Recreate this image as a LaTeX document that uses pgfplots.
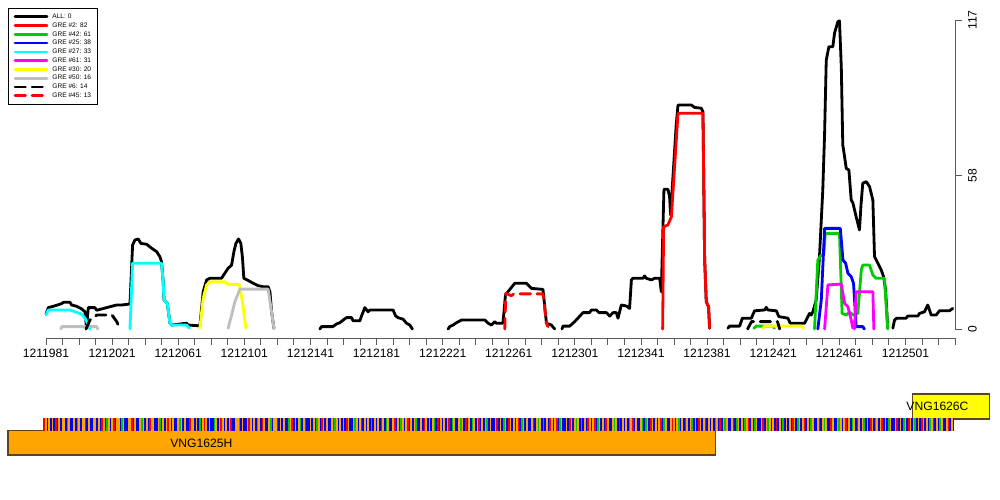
\documentclass[border=0pt]{standalone}
\usepackage{pgfplots}
\pgfplotsset{compat=1.18}
\usepackage{fontspec}
\setmainfont{Liberation Sans}
\definecolor{cgreen}{RGB}{0,205,0}
\definecolor{cgray}{RGB}{190,190,190}
\definecolor{ccyan}{RGB}{0,255,255}
\definecolor{cmagenta}{RGB}{255,0,255}
\definecolor{cyellow}{RGB}{255,255,0}
\definecolor{cred}{RGB}{255,0,0}
\definecolor{cblue}{RGB}{0,0,255}
\definecolor{corange}{RGB}{255,165,0}
\definecolor{cbord}{RGB}{90,70,30}
\definecolor{sgreen}{RGB}{0,200,0}
% sequence track: 0=G (orange) 1=C (blue) 2=A (green) 3=T (red)
\def\seq{3,0,1,0,1,0,1,3,1,0,1,0,0,1,2,0,1,1,0,1,2,0,1,0,0,3,1,0,1,1,0,0,1,0,1,3,0,1,2,0,1,0,3,1,0,0,1,2,0,1,%
1,0,0,3,1,0,1,1,0,2,0,1,0,1,3,0,0,1,1,0,2,1,0,1,0,3,0,1,0,1,1,0,2,0,1,0,1,1,3,0,0,1,0,1,2,1,0,3,0,1,%
0,1,1,2,0,1,0,3,0,1,0,1,0,3,1,1,0,0,2,1,0,1,1,0,3,0,1,0,1,2,0,1,3,0,1,1,0,2,1,0,0,3,1,0,1,0,1,1,2,0,%
3,1,0,1,0,2,1,0,3,1,1,0,1,0,1,2,0,1,3,0,1,0,1,1,0,3,2,0,1,0,1,0,1,3,0,1,1,0,2,0,1,0,3,1,0,1,0,1,2,1,%
0,1,0,1,3,0,1,2,0,1,1,0,3,1,0,1,2,0,1,0,3,1,0,1,0,2,1,1,0,1,3,0,1,0,1,0,2,1,3,1,0,1,0,1,0,3,1,2,0,1,%
1,0,2,0,1,3,1,0,1,2,0,1,0,3,1,0,1,0,2,1,0,1,1,0,3,1,0,1,2,0,1,3,0,1,0,1,0,3,1,2,0,1,0,1,1,0,3,1,0,2,%
0,1,2,1,0,1,3,0,1,0,3,1,2,0,1,1,0,1,3,0,1,0,2,0,1,2,1,0,1,3,0,1,0,3,1,2,0,1,0,1,3,0,1,1,0,2,0,1,3,1,%
0,1,0,1,2,0,3,1,0,1,1,0,2,1,2,0,1,3,0,1,0,1,0,3,1,2,0,1,1,0,3,0,1,0,2,1,0,1,3,0,1,0,2,1,0,1,3,0,1,0,%
3,1,0,1,0,1,2,0,1,3,1,0,2,0,1,1,0,3,1,2,0,1,0,1,2,0,3,1,0,1,2,0,1,1,0,3,1,0,2,0,1,0,1,3,1,0,1,2,1,0,%
1,0,1,3,0,1,2,0,1,0,3,1,0,1,2,0,1,1,0,3,1,0,2,0,1,1,3,0,1,1,0,2,0,1,0,3,1,0,1,2,0,1,3,0,1,0,2,1,0,1,%
3,0,1,2,0,1,0,3,1,0,1,2,0,1,1,0,3,1,0,1,2,0,1,3,0,1,0,2,1,0,1,3,0,1,0,1,2,0,3,1,0,1,2,0,1,1,0,3,1,0,1}
\begin{document}
\begin{tikzpicture}
\useasboundingbox[fill=white] (0,0) rectangle (20cm,10cm);
\def\coords{}
\foreach \c [count=\i from -1] in \seq {\xdef\coords{\coords (\i,-424.5) [\c]}}
% x = position - 1211981 (bp)
\begin{axis}[at={(0.92cm,3.24cm)}, anchor=south west, scale only axis,
  width=18.18cm, height=6.36cm,
  xmin=0, xmax=550, ymin=-3.4, ymax=117,
  axis x line*=bottom, axis y line*=right,
  y axis line style={draw=none},
  x axis line style={black!65, line width=0.5pt},
  xtick={0,40,...,520},
  xticklabels={1211981,1212021,1212061,1212101,1212141,1212181,1212221,1212261,1212301,1212341,1212381,1212421,1212461,1212501},
  minor xtick={0,10,...,550},
  ytick={0,58,117}, yticklabels={0,58,117},
  tick align=outside, major tick length=0.14cm, minor tick length=0.14cm,
  tick style={black!65, line width=0.5pt},
  ticklabel style={font=\fontsize{6.9}{8}\selectfont},
  xticklabel style={yshift=0.04cm},
  yticklabel style={rotate=90, anchor=north},
  clip=false,
  legend style={at={(-0.0418,1.0377)}, anchor=north west, draw=black, line width=0.5pt,
    fill=white, font=\fontsize{3.75}{4.4}\selectfont, inner xsep=3pt, inner ysep=2.2pt,
    row sep=0pt, column sep=0.06cm,
    nodes={inner sep=0.6pt, text height=2.9pt, text depth=0.9pt}},
  legend cell align=left,
  legend image code/.code={\draw[#1] (0cm,0cm) -- (0.64cm,0cm);},
  every axis plot/.append style={line width=1.6pt, line join=round, line cap=round},
]
\addlegendimage{black, line width=1.5pt}\addlegendentry{ALL: 0\hspace{0.1cm}}
\addlegendimage{cred, line width=1.5pt}\addlegendentry{GRE \#2: 82}
\addlegendimage{cgreen, line width=1.5pt}\addlegendentry{GRE \#42: 61}
\addlegendimage{cblue, line width=1.5pt}\addlegendentry{GRE \#25: 38}
\addlegendimage{ccyan, line width=1.5pt}\addlegendentry{GRE \#27: 33}
\addlegendimage{cmagenta, line width=1.5pt}\addlegendentry{GRE \#61: 31}
\addlegendimage{cyellow, line width=1.5pt}\addlegendentry{GRE \#30: 20}
\addlegendimage{cgray, line width=1.5pt}\addlegendentry{GRE \#50: 16}
\addlegendimage{black, line width=1.5pt, dash pattern=on 0.21cm off 0.13cm}\addlegendentry{GRE \#6: 14}
\addlegendimage{cred, line width=1.5pt, dash pattern=on 0.21cm off 0.13cm}\addlegendentry{GRE \#45: 13\hspace{0.1cm}}
% ALL
\addplot[black, forget plot] coordinates {(0,5.6) (1.4,8.1) (4.4,8.6) (9.5,9.6) (10.5,10.1) (14.5,10.1) (15.5,9.1) (18.6,8.6) (21.6,7.6) (23.6,6.5) (24.5,0.4) (25.6,8.1) (29.6,8.1) (30.7,7.1) (33.7,7.6) (36.7,8.1) (39.7,8.6) (42.8,9.1) (45.8,9.1) (49.8,9.4) (50.8,9.6) (52.4,31.8) (53.8,33.7) (55.8,34.1) (57.4,32.4) (60.9,32.1) (63.9,30.6) (66.9,29.3) (68.9,27.4) (69.9,25.5) (70.9,17.9) (71.4,11.0) (73.4,9.7) (75.0,2.2) (76.0,1.5) (85.1,2.2) (86.0,1.5) (93.1,1.2) (95.1,14.1) (97.2,18.6) (99.2,19.2) (106.2,19.2) (107.2,20.2) (110.2,23.0) (112.3,24.2) (113.7,29.3) (114.9,32.4) (116.5,34.1) (117.9,32.4) (118.9,26.8) (119.7,19.2) (121.7,18.6) (125.4,17.3) (128.4,16.4) (131.4,16.0) (134.4,16.0) (135.5,14.1) (136.5,6.5) (137.9,0.3)};
\addplot[black, forget plot] coordinates {(165.7,0) (166.7,0.9) (173.5,0.9) (175.8,1.9) (177.8,2.4) (179.8,3.4) (181.8,4.3) (184.9,4.3) (185.8,3.1) (189.9,3.1) (190.9,4.9) (192.9,8.1) (194.9,6.5) (195.9,7.2) (210.0,7.2) (211.5,5.0) (213.0,4.3) (216.1,3.7) (218.1,2.2) (220.1,1.5) (221.7,0)};
\addplot[black, forget plot] coordinates {(243.3,0) (244.3,0.9) (246.3,1.5) (248.4,2.4) (251.4,3.4) (265.5,3.4) (267.5,2.2) (269.5,1.5) (271.5,2.8) (272.5,2.2) (276.5,2.2) (278.0,12.9) (279.5,14.1) (283.6,17.3) (290.7,17.3) (293.7,15.4) (300.7,15.0) (302.8,2.2) (305.8,1.5) (307.8,0)};
\addplot[black, forget plot] coordinates {(312.2,0) (312.8,1.1) (316.9,1.1) (319.9,2.8) (324.9,6.2) (328.9,6.2) (330.0,7.2) (333.0,7.2) (334.6,6.2) (339.1,6.2) (341.1,4.9) (343.1,6.2) (345.1,6.2) (346.1,4.1) (348.1,9.1) (351.2,8.7) (353.1,7.8) (354.2,18.6) (355.1,19.2) (361.2,19.2) (362.2,20.1) (363.2,19.2) (366.3,18.6) (368.3,19.2) (371.3,19.2) (372.3,14.1) (373.3,38.7) (373.9,52.9) (376.3,52.9) (377.3,50.1) (377.9,43.2) (381.3,77.2) (382.4,84.8) (390.5,84.8) (392.4,83.9) (396.5,83.6) (397.5,82.3) (398.5,26.8) (399.5,10.3) (400.9,8.4) (401.5,0.3)};
\addplot[black, forget plot] coordinates {(412.6,0.3) (413.6,1.1) (419.7,1.1) (421.3,4.1) (426.8,4.1) (428.7,6.9) (434.8,7.2) (435.8,8.2) (436.8,7.2) (441.9,6.9) (443.4,4.7) (448.9,4.1) (450.3,2.2) (459.0,2.2) (462.0,5.9) (463.0,5.3) (464.0,6.5) (466.0,11.0) (468.0,27.4) (470.0,52.6) (471.1,74.1) (472.1,101.8) (473.7,106.9) (476.1,106.9) (477.1,112.0) (479.1,116.3) (480.1,116.7) (481.2,99.3) (482.1,69.7) (483.2,65.2) (484.2,60.8) (485.8,60.2) (487.2,48.8) (488.2,47.8) (490.2,42.5) (492.2,37.5) (493.2,47.6) (494.2,55.2) (496.3,55.8) (498.3,53.9) (500.3,48.8) (501.3,27.4) (503.3,24.9) (505.4,22.3) (506.8,19.8) (508.0,14.8) (509.3,0.3)};
\addplot[black, forget plot] coordinates {(512.4,0.3) (513.4,3.4) (514.8,4.1) (520.4,4.1) (521.4,4.9) (527.5,4.9) (528.5,5.9) (531.5,6.5) (533.5,9.1) (535.6,5.3) (538.6,5.3) (540.6,6.9) (546.7,6.9) (548.6,7.8)};
% GRE #2
\addplot[cred, forget plot] coordinates {(373.1,0) (373.7,38.7) (376.3,39.4) (378.4,42.5) (382.4,81.7) (397.5,81.7) (398.5,26.8) (399.5,10.3) (400.9,8.4) (401.5,0.3)};
% GRE #42
\addplot[cgreen, forget plot] coordinates {(428.3,0.3) (429.8,1.1) (439.8,1.1) (440.8,0.3)};
\addplot[cgreen, forget plot] coordinates {(465.0,0) (467.0,26.1) (469.1,28.0) (470.5,28.0) (471.6,36.2) (480.1,36.2) (481.7,5.9) (484.2,5.3) (486.2,6.5) (488.2,5.3) (491.2,5.9) (493.3,22.3) (494.2,24.2) (498.3,24.2) (500.3,20.4) (502.3,19.2) (507.3,19.2) (509.3,0)};
% GRE #25
\addplot[cblue, forget plot] coordinates {(467.0,0) (469.1,11.0) (471.1,38.1) (480.6,38.1) (482.2,26.1) (483.8,24.9) (485.2,21.1) (487.2,19.8) (488.6,17.3) (490.2,0.9) (494.2,0.9) (495.2,0)};
% GRE #27
\addplot[ccyan, forget plot] coordinates {(0,5.3) (1.4,7.2) (14.5,7.2) (18.6,6.3) (21.6,5.6) (23.6,4.1) (25.6,1.5) (26.6,0)};
\addplot[ccyan, forget plot] coordinates {(50.8,0) (52.4,24.9) (69.9,24.9) (70.9,17.9) (71.4,11.0) (73.4,9.7) (75.0,2.2) (76.0,1.5) (85.1,1.5) (86.7,0.3)};
% GRE #61
\addplot[cmagenta, forget plot] coordinates {(471.1,0) (473.1,16.7) (481.2,17.0) (483.2,9.7) (485.2,8.4) (487.2,3.4) (488.2,0.3)};
\addplot[cmagenta, forget plot] coordinates {(489.2,0) (490.2,14.1) (500.3,14.1) (500.9,0)};
% GRE #30
\addplot[cyellow, forget plot] coordinates {(93.1,0.3) (95.1,11.6) (97.2,16.7) (99.2,17.9) (108.2,17.9) (110.2,16.9) (116.9,16.9) (118.9,10.3) (120.9,0.3)};
\addplot[cyellow, forget plot] coordinates {(433.8,0.3) (434.8,1.1) (457.0,1.1) (458.4,0.3)};
% GRE #50
\addplot[cgray, forget plot] coordinates {(9.1,0) (9.5,0.9) (30.7,0.9) (31.3,0)};
\addplot[cgray, forget plot] coordinates {(110.2,0.3) (112.3,5.3) (114.3,10.3) (117.3,15.1) (134.4,15.1) (136.5,6.5) (137.9,0.3)};
% GRE #6
\addplot[black, dash pattern=on 0.21cm off 0.13cm, forget plot] coordinates {(24.2,0) (26.6,3.4) (30.8,5.3) (39.9,5.3) (42.9,2.7) (44.7,0)};
\addplot[black, dash pattern=on 0.21cm off 0.13cm, forget plot] coordinates {(424.5,0) (426.9,2.8) (442.6,2.8) (443.9,0)};
% GRE #45
\addplot[cred, dash pattern=on 0.21cm off 0.13cm, forget plot] coordinates {(277.6,0) (278.2,13.5) (281.6,12.6) (283.0,13.3) (300.7,13.3) (302.8,2.2) (303.7,0.9)};
\draw[black!65, line width=0.5pt] (axis cs:550,0) -- (axis cs:550,117);
\end{axis}
% gene track
\begin{axis}[at={(0.92cm,0.8cm)}, anchor=south west, scale only axis,
  width=18.18cm, height=1.5cm, xmin=0, xmax=550, ymin=-460, ymax=-385,
  hide axis, clip=false]
\addplot[fill=corange, draw=cbord, line width=0.6pt] coordinates {(-23,-455) (405.2,-455) (405.2,-430.7) (-23,-430.7)} -- cycle;
\addplot[fill=cyellow, draw=cbord, line width=0.6pt] coordinates {(524.3,-419) (570.9,-419) (570.9,-394) (524.3,-394)} -- cycle;
\edef\temp{\noexpand\addplot[scatter, only marks, mark=|, point meta=explicit symbolic, mark size=0.124cm,
  scatter/classes={0={mark=|, draw=corange, line width=0.034cm},1={mark=|, draw=cblue, line width=0.034cm},2={mark=|, draw=sgreen, line width=0.034cm},3={mark=|, draw=cred, line width=0.034cm}}] coordinates {\coords};}
\temp
\addplot[white, line width=0.4pt, dash pattern=on 1pt off 1.5pt] coordinates {(-1.5,-424.5) (550.5,-424.5)};
\node[font=\fontsize{6.9}{8}\selectfont] at (axis cs:94,-443.3) {VNG1625H};
\node[font=\fontsize{6.9}{8}\selectfont] at (axis cs:539.4,-406.7) {VNG1626C};
\end{axis}
\end{tikzpicture}
\end{document}
